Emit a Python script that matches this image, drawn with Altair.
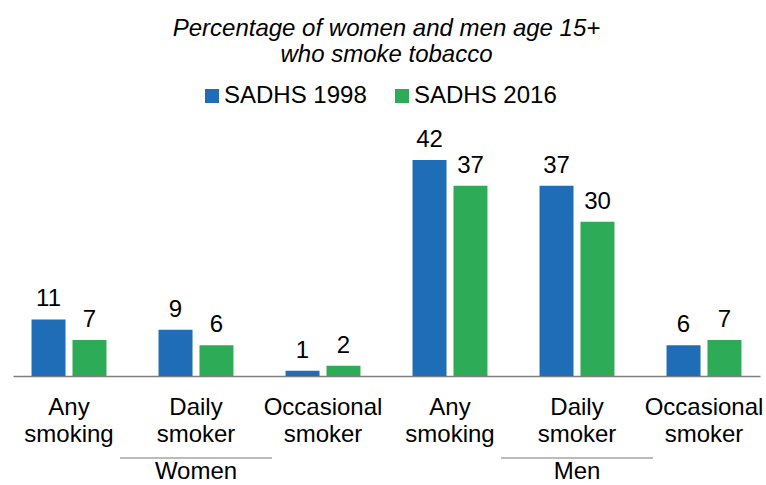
import altair as alt
import pandas as pd

groups = ["Women", "Women", "Women", "Men", "Men", "Men"]
measures = ["Any smoking", "Daily smoker", "Occasional smoker",
            "Any smoking", "Daily smoker", "Occasional smoker"]
v1998 = [11, 9, 1, 42, 37, 6]
v2016 = [7, 6, 2, 37, 30, 7]
surveys = ["SADHS 1998", "SADHS 2016"]
group_names = ["Women", "Men"]
group_center_measure = "Daily smoker"
title_lines = ["Percentage of women and men age 15+", "who smoke tobacco"]

BLUE = "#1F6DB6"
GREEN = "#2EAB57"
FONT = "Liberation Sans"
FS = 24

cats = [f"{g}|{m}" for g, m in zip(groups, measures)]
rows = []
for c, a, b in zip(cats, v1998, v2016):
    rows.append({"cat": c, "survey": surveys[0], "value": a})
    rows.append({"cat": c, "survey": surveys[1], "value": b})
df = pd.DataFrame(rows)
gdf = pd.DataFrame({"cat": [f"{g}|{group_center_measure}" for g in group_names],
                    "group": group_names})

W, H = 747, 256

x = alt.X("cat:N", sort=cats,
          scale=alt.Scale(paddingInner=0.41, paddingOuter=0.146),
          axis=alt.Axis(title=None, labelAngle=0, ticks=False,
                        labelExpr="split(split(datum.label, '|')[1], ' ')",
                        labelFontSize=FS, labelLineHeight=27, labelPadding=19,
                        labelColor="black", labelFont=FONT,
                        domainColor="#7f7f7f", domainWidth=1.5))
y = alt.Y("value:Q", scale=alt.Scale(domain=[0, 49.8]), axis=None)
xo = alt.XOffset("survey:N", sort=surveys, scale=alt.Scale(paddingInner=0.17))

base = alt.Chart(df)
bars = base.mark_bar().encode(
    x=x, y=y, xOffset=xo,
    color=alt.Color("survey:N",
                    scale=alt.Scale(domain=surveys, range=[BLUE, GREEN]),
                    legend=alt.Legend(title=None, orient="none", legendX=187, legendY=-36,
                                      direction="horizontal", symbolType="square",
                                      symbolSize=196, symbolStrokeWidth=0,
                                      labelFontSize=FS, labelFont=FONT, labelColor="black",
                                      labelOffset=0, columnPadding=23)),
)
labels = base.mark_text(baseline="bottom", dy=-8, fontSize=FS, font=FONT, color="black").encode(
    x=alt.X("cat:N", sort=cats), y=y, xOffset=xo, text="value:Q")

seps = alt.Chart(gdf).mark_tick(orient="horizontal", size=152, thickness=1, color="#404040").encode(
    x=alt.X("cat:N", sort=cats), y=alt.value(82 + 256))
gtext = alt.Chart(gdf).mark_text(fontSize=FS, font=FONT, color="black", baseline="middle").encode(
    x=alt.X("cat:N", sort=cats), y=alt.value(96 + 256), text="group:N")

chart = alt.layer(bars, labels, seps, gtext).properties(
    width=W, height=H,
    autosize=alt.AutoSizeParams(type="none"),
    padding={"left": 13, "top": 120, "right": 6, "bottom": 109},
    title=alt.TitleParams(title_lines, fontSize=FS, fontStyle="italic", fontWeight="normal",
                          font=FONT, color="black", lineHeight=26, anchor="middle", offset=17),
).configure_view(stroke=None)

chart.save("out.html", embed_options={"renderer": "svg", "actions": False})
